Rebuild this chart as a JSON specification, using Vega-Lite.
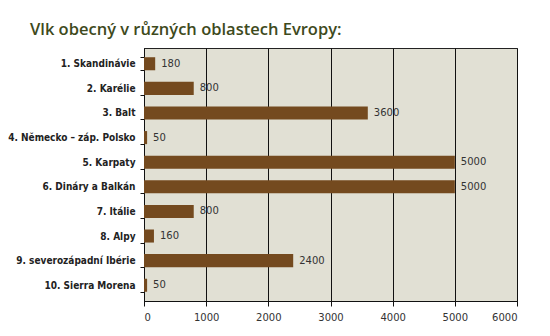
{
  "$schema": "https://vega.github.io/schema/vega-lite/v6.json",
  "width": 373,
  "height": 253,
  "autosize": "none",
  "padding": {"left": 144, "top": 48, "right": 33, "bottom": 35},
  "background": "white",
  "title": {
    "text": "Vlk obecný v různých oblastech Evropy:",
    "anchor": "start",
    "frame": "group",
    "dx": -114,
    "offset": 5,
    "font": "Open Sans",
    "fontSize": 16.5,
    "fontWeight": 600,
    "color": "#3e4a1c"
  },
  "config": {
    "view": {"fill": "#e1e0d4", "stroke": "#222222", "strokeWidth": 1}
  },
  "data": {
    "values": [
      {"region": "1. Skandinávie", "wolves": 180},
      {"region": "2. Karélie", "wolves": 800},
      {"region": "3. Balt", "wolves": 3600},
      {"region": "4. Německo – záp. Polsko", "wolves": 50},
      {"region": "5. Karpaty", "wolves": 5000},
      {"region": "6. Dináry a Balkán", "wolves": 5000},
      {"region": "7. Itálie", "wolves": 800},
      {"region": "8. Alpy", "wolves": 160},
      {"region": "9. severozápadní Ibérie", "wolves": 2400},
      {"region": "10. Sierra Morena", "wolves": 50}
    ]
  },
  "encoding": {
    "y": {
      "field": "region",
      "type": "nominal",
      "sort": null,
      "scale": {"paddingInner": 0.47, "paddingOuter": 0.375},
      "axis": {
        "title": null,
        "domainColor": "#111111",
        "tickColor": "#111111",
        "tickSize": 4,
        "tickBand": "extent",
        "labelFont": "DejaVu Sans Condensed",
        "labelFontWeight": "bold",
        "labelFontSize": 10,
        "labelColor": "#222222",
        "labelPadding": 5,
        "labelLimit": 140
      }
    },
    "x": {
      "field": "wolves",
      "type": "quantitative",
      "scale": {"domain": [0, 6000], "nice": false},
      "axis": {
        "title": null,
        "values": [0, 1000, 2000, 3000, 4000, 5000, 6000],
        "format": "d",
        "grid": true,
        "gridColor": "#111111",
        "gridOpacity": 1,
        "domainColor": "#111111",
        "tickColor": "#111111",
        "tickSize": 5,
        "labelFont": "DejaVu Sans",
        "labelFontSize": 10,
        "labelColor": "#333333",
        "labelPadding": 6
      }
    }
  },
  "layer": [
    {"mark": {"type": "bar", "color": "#744a1f"}},
    {
      "mark": {"type": "text", "align": "left", "dx": 6, "font": "DejaVu Sans", "fontSize": 10, "color": "#333333"},
      "encoding": {"text": {"field": "wolves", "type": "quantitative"}}
    }
  ]
}
